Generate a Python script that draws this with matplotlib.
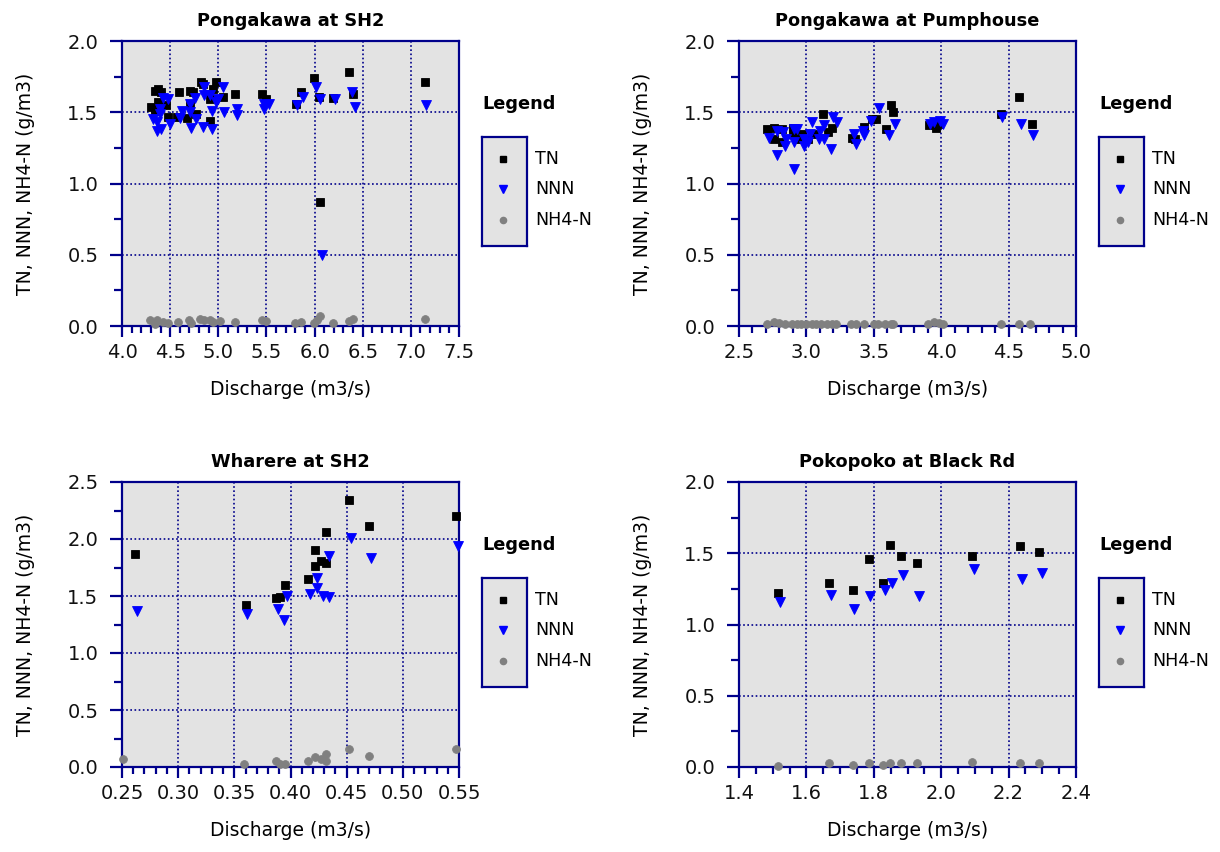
import matplotlib
matplotlib.use("Agg")
import matplotlib.pyplot as plt
from matplotlib.ticker import MultipleLocator, FormatStrFormatter

plt.rcParams['font.family'] = ['DejaVu Sans']

NAVY = '#00008b'
BG = '#e3e3e3'
TICK_FS = 14
LABEL_FS = 13.5
TITLE_FS = 12.8
LEG_FS = 12.6

# Pongakawa at SH2
sh2_tn_q = [4.34, 4.37, 4.41, 4.37, 4.30, 4.34, 4.46, 4.48, 4.59, 4.71, 4.74, 4.71, 4.82, 4.84,
            4.98, 4.95, 4.91, 4.77, 4.68, 4.91, 5.05, 5.17, 4.57, 5.45, 5.50, 5.81, 5.86, 5.99,
            6.05, 6.06, 6.19, 6.36, 6.40, 7.15]
sh2_tn = [1.65, 1.66, 1.64, 1.57, 1.54, 1.51, 1.55, 1.47, 1.64, 1.65, 1.64, 1.56, 1.71, 1.70,
          1.71, 1.66, 1.59, 1.49, 1.46, 1.44, 1.61, 1.63, 1.47, 1.63, 1.59, 1.56, 1.64, 1.74,
          1.61, 0.87, 1.60, 1.78, 1.63, 1.71]
sh2_nnn_q = [4.43, 4.48, 4.39, 4.39, 4.32, 4.36, 4.36, 4.41, 4.50, 4.60, 4.62, 4.71, 4.71, 4.72,
             4.77, 4.76, 4.84, 4.93, 4.85, 4.85, 4.91, 4.93, 4.98, 5.00, 5.05, 5.06, 5.19, 5.19,
             5.47, 5.47, 5.53, 5.82, 5.88, 6.01, 6.06, 6.21, 6.39, 6.42, 7.16, 6.08]
sh2_nnn = [1.60, 1.59, 1.52, 1.49, 1.45, 1.43, 1.37, 1.38, 1.42, 1.46, 1.51, 1.56, 1.50, 1.39,
           1.45, 1.60, 1.40, 1.38, 1.68, 1.62, 1.62, 1.51, 1.57, 1.59, 1.68, 1.50, 1.52, 1.48,
           1.56, 1.52, 1.56, 1.55, 1.61, 1.68, 1.59, 1.59, 1.64, 1.54, 1.55, 0.50]
sh2_nh4_q = [4.29, 4.36, 4.34, 4.43, 4.48, 4.58, 4.70, 4.72, 4.81, 4.85, 4.91, 4.95, 5.02, 5.17,
             5.45, 5.50, 5.80, 5.86, 5.99, 6.03, 6.06, 6.19, 6.36, 6.40, 7.15]
sh2_nh4 = [0.04, 0.04, 0.015, 0.03, 0.02, 0.025, 0.04, 0.02, 0.05, 0.04, 0.04, 0.025, 0.035, 0.03,
           0.04, 0.035, 0.02, 0.025, 0.02, 0.04, 0.07, 0.02, 0.035, 0.05, 0.05]

# Pongakawa at Pumphouse
ph_tn_q = [2.71, 2.76, 2.76, 2.82, 2.82, 2.90, 2.90, 2.94, 2.97, 3.01, 3.06, 3.12, 3.16, 3.19,
           3.34, 3.36, 3.43, 3.49, 3.52, 3.59, 3.63, 3.64, 3.91, 3.96, 3.98, 4.44, 4.58, 4.67]
ph_tn = [1.38, 1.39, 1.31, 1.38, 1.29, 1.39, 1.35, 1.31, 1.35, 1.31, 1.35, 1.49, 1.36, 1.39,
         1.32, 1.31, 1.40, 1.45, 1.45, 1.38, 1.55, 1.50, 1.41, 1.39, 1.42, 1.49, 1.61, 1.42]
ph_nnn_q = [2.72, 2.78, 2.78, 2.83, 2.84, 2.85, 2.91, 2.91, 2.93, 2.91, 2.98, 2.98, 3.01, 3.04,
            3.03, 3.09, 3.10, 3.13, 3.13, 3.18, 3.20, 3.23, 3.35, 3.37, 3.43, 3.42, 3.48, 3.54,
            3.61, 3.66, 3.92, 3.95, 3.99, 4.01, 4.45, 4.59, 4.68]
ph_nnn = [1.32, 1.20, 1.37, 1.36, 1.26, 1.31, 1.10, 1.38, 1.38, 1.29, 1.26, 1.31, 1.29, 1.43,
          1.35, 1.31, 1.37, 1.41, 1.31, 1.24, 1.47, 1.43, 1.35, 1.28, 1.34, 1.37, 1.44, 1.53,
          1.34, 1.42, 1.42, 1.43, 1.44, 1.42, 1.47, 1.42, 1.34]
ph_nh4_q = [2.71, 2.76, 2.80, 2.84, 2.89, 2.93, 2.96, 3.00, 3.04, 3.07, 3.11, 3.15, 3.19, 3.22,
            3.33, 3.37, 3.43, 3.50, 3.53, 3.58, 3.63, 3.64, 3.90, 3.95, 3.98, 4.01, 4.44, 4.58,
            4.66]
ph_nh4 = [0.015, 0.03, 0.02, 0.015, 0.015, 0.015, 0.015, 0.015, 0.015, 0.015, 0.015, 0.015,
          0.015, 0.015, 0.015, 0.015, 0.015, 0.015, 0.015, 0.015, 0.015, 0.015, 0.015, 0.03,
          0.02, 0.015, 0.015, 0.015, 0.015]

# Wharere at SH2
wh_tn_q = [0.262, 0.360, 0.387, 0.391, 0.395, 0.416, 0.422, 0.422, 0.427, 0.432, 0.432, 0.452,
           0.470, 0.547]
wh_tn = [1.87, 1.42, 1.48, 1.49, 1.60, 1.65, 1.90, 1.76, 1.81, 1.79, 2.06, 2.34, 2.11, 2.20]
wh_nnn_q = [0.263, 0.361, 0.389, 0.394, 0.397, 0.417, 0.424, 0.424, 0.429, 0.434, 0.434, 0.454,
            0.472, 0.549]
wh_nnn = [1.37, 1.34, 1.39, 1.29, 1.50, 1.52, 1.66, 1.57, 1.50, 1.49, 1.85, 2.01, 1.83, 1.94]
wh_nh4_q = [0.251, 0.359, 0.387, 0.391, 0.395, 0.416, 0.422, 0.427, 0.432, 0.432, 0.452, 0.470,
            0.547]
wh_nh4 = [0.07, 0.03, 0.05, 0.03, 0.03, 0.05, 0.09, 0.07, 0.11, 0.05, 0.155, 0.10, 0.155]

# Pokopoko at Black Rd
pk_tn_q = [1.516, 1.667, 1.737, 1.785, 1.827, 1.849, 1.881, 1.929, 2.090, 2.234, 2.291]
pk_tn = [1.22, 1.29, 1.24, 1.46, 1.29, 1.56, 1.48, 1.43, 1.48, 1.55, 1.51]
pk_nnn_q = [1.521, 1.672, 1.742, 1.790, 1.832, 1.854, 1.887, 1.934, 2.096, 2.239, 2.298]
pk_nnn = [1.16, 1.21, 1.11, 1.20, 1.24, 1.29, 1.35, 1.20, 1.39, 1.32, 1.36]
pk_nh4_q = [1.516, 1.667, 1.737, 1.785, 1.827, 1.849, 1.881, 1.929, 2.090, 2.234, 2.291]
pk_nh4 = [0.01, 0.025, 0.015, 0.025, 0.015, 0.025, 0.025, 0.025, 0.035, 0.025, 0.025]

W, H = 1220, 852
fig = plt.figure(figsize=(W / 100, H / 100), dpi=100)

STYLE = {
    'TN': dict(marker='s', color='black', ms=5.6),
    'NNN': dict(marker='v', color='blue', ms=7.6),
    'NH4-N': dict(marker='o', color='#808080', ms=5.6),
}


def px_axes(left, top, right, bottom):
    return fig.add_axes([left / W, 1 - bottom / H, (right - left) / W, (bottom - top) / H])


def panel(left, top, title, series, xlim, xmaj, xmin, xfmt, ylim, ymaj):
    ax = px_axes(left, top, left + 337, top + 285)
    ax.set_facecolor(BG)
    for name, (q, v) in series.items():
        st = STYLE[name]
        ax.plot(q, v, linestyle='none', marker=st['marker'], color=st['color'],
                ms=st['ms'], markeredgewidth=0.6, clip_on=False, zorder=3)
    ax.set_xlim(*xlim)
    ax.set_ylim(*ylim)
    ax.xaxis.set_major_locator(MultipleLocator(xmaj))
    ax.xaxis.set_minor_locator(MultipleLocator(xmin))
    ax.yaxis.set_major_locator(MultipleLocator(ymaj))
    ax.yaxis.set_minor_locator(MultipleLocator(ymaj / 2))
    ax.xaxis.set_major_formatter(FormatStrFormatter(xfmt))
    ax.yaxis.set_major_formatter(FormatStrFormatter('%.1f'))
    ax.grid(True, which='major', color=NAVY, linestyle=(0, (1, 1.5)), linewidth=1.2)
    ax.set_axisbelow(True)
    for s in ax.spines.values():
        s.set_color(NAVY)
        s.set_linewidth(1.6)
    ax.tick_params(axis='both', which='both', color=NAVY, direction='out',
                   labelsize=TICK_FS, labelcolor='#111111')
    ax.tick_params(axis='y', which='major', length=9, width=1.6, pad=8)
    ax.tick_params(axis='y', which='minor', length=6, width=1.6)
    ax.tick_params(axis='x', which='major', length=8, width=1.6, pad=4)
    ax.tick_params(axis='x', which='minor', length=5, width=1.6)
    ax.set_title(title, fontsize=TITLE_FS, fontweight='bold', pad=11)
    ax.set_xlabel('Discharge (m3/s)', fontsize=LABEL_FS, labelpad=13)
    ax.set_ylabel('TN, NNN, NH4-N (g/m3)', fontsize=LABEL_FS, labelpad=23)

    # legend: framed marker column, labels beside it
    lx = left + 360
    fig.text(lx / W, 1 - (top + 63) / H, 'Legend', fontsize=TITLE_FS,
             fontweight='bold', va='center', ha='left')
    lax = px_axes(lx, top + 96, lx + 45, top + 205)
    lax.set_facecolor(BG)
    lax.set_xlim(0, 1)
    lax.set_ylim(0, 1)
    lax.set_xticks([])
    lax.set_yticks([])
    for s in lax.spines.values():
        s.set_color(NAVY)
        s.set_linewidth(1.6)
    for i, name in enumerate(['TN', 'NNN', 'NH4-N']):
        st = STYLE[name]
        yy = 0.8 - i * 0.28
        lax.plot([0.47], [yy], linestyle='none', marker=st['marker'], color=st['color'],
                 ms=st['ms'] * 0.8)
        lax.text(1.18, yy, name, transform=lax.transAxes, fontsize=LEG_FS, va='center',
                 ha='left', clip_on=False)
    return ax


panel(122, 41, 'Pongakawa at SH2',
      {'TN': (sh2_tn_q, sh2_tn), 'NNN': (sh2_nnn_q, sh2_nnn), 'NH4-N': (sh2_nh4_q, sh2_nh4)},
      (4.0, 7.5), 0.5, 0.1, '%.1f', (0, 2.0), 0.5)
panel(739, 41, 'Pongakawa at Pumphouse',
      {'TN': (ph_tn_q, ph_tn), 'NNN': (ph_nnn_q, ph_nnn), 'NH4-N': (ph_nh4_q, ph_nh4)},
      (2.5, 5.0), 0.5, 0.1, '%.1f', (0, 2.0), 0.5)
panel(122, 482, 'Wharere at SH2',
      {'TN': (wh_tn_q, wh_tn), 'NNN': (wh_nnn_q, wh_nnn), 'NH4-N': (wh_nh4_q, wh_nh4)},
      (0.25, 0.55), 0.05, 0.01, '%.2f', (0, 2.5), 0.5)
panel(739, 482, 'Pokopoko at Black Rd',
      {'TN': (pk_tn_q, pk_tn), 'NNN': (pk_nnn_q, pk_nnn), 'NH4-N': (pk_nh4_q, pk_nh4)},
      (1.4, 2.4), 0.2, 0.05, '%.1f', (0, 2.0), 0.5)

fig.savefig('out.png', dpi=100, facecolor='white')
